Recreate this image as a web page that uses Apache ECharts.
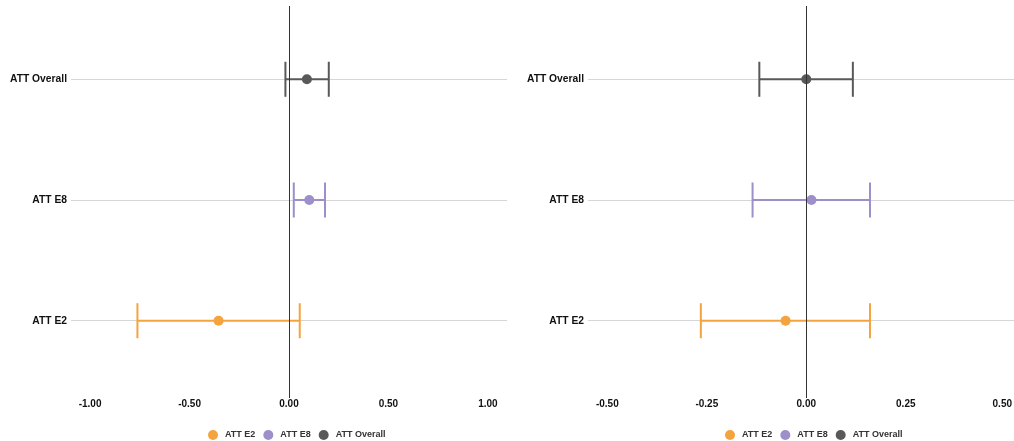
<!DOCTYPE html>
<html>
<head>
<meta charset="utf-8">
<script src="https://cdn.jsdelivr.net/npm/echarts@6/dist/echarts.min.js"></script>
<style>
html,body{margin:0;padding:0;background:#fff;}
#chart{width:1014px;height:441px;}
</style>
</head>
<body>
<div id="chart"></div>
<script>
const categories = ['ATT E2', 'ATT E8', 'ATT Overall'];
const colors = ['#F5A33E', '#9C8FCA', '#595959'];

const leftEst  = [-0.354, 0.102, 0.090];
const leftLow  = [-0.762, 0.024, -0.018];
const leftHigh = [0.054, 0.181, 0.200];

const rightEst  = [-0.052, 0.013, 0.000];
const rightLow  = [-0.265, -0.135, -0.118];
const rightHigh = [0.160, 0.160, 0.117];

const leftTicks  = [-1, -0.5, 0, 0.5, 1];
const rightTicks = [-0.5, -0.25, 0, 0.25, 0.5];

const FONT = '"Liberation Sans", Arial, sans-serif';

function xAxis(gi, min, max, ticks) {
  const lblStyle = {fontSize: 10, fontWeight: 'bold', color: '#111', fontFamily: FONT};
  return {
    type: 'value', gridIndex: gi, min: min, max: max,
    axisLine: {show: false}, splitLine: {show: false},
    axisTick: {show: false, customValues: ticks},
    axisLabel: Object.assign({customValues: ticks, margin: 1,
      formatter: v => (v > max - 0.05 ? '{e|' + v.toFixed(2) + '}' : v.toFixed(2)),
      rich: {e: Object.assign({padding: [0, 6, 0, 0]}, lblStyle)}
    }, lblStyle)
  };
}
function yAxis(gi) {
  return {
    type: 'value', gridIndex: gi, min: 0.36, max: 3.607,
    axisLine: {show: false},
    axisTick: {show: false, customValues: [1, 2, 3]},
    splitLine: {show: true, lineStyle: {color: '#D6D6D6', width: 1}},
    axisLabel: {customValues: [1, 2, 3], margin: 4, fontSize: 10.3, fontWeight: 'bold',
      color: '#111', fontFamily: FONT, formatter: v => categories[Math.round(v) - 1] || ''}
  };
}

function errSeries(gi, i, low, high) {
  return {
    type: 'custom', name: categories[i], xAxisIndex: gi, yAxisIndex: gi, z: 2,
    itemStyle: {color: colors[i]},
    data: [[low[i], high[i], i + 1]],
    renderItem: function (params, api) {
      const a = api.coord([api.value(0), api.value(2)]);
      const b = api.coord([api.value(1), api.value(2)]);
      const h = 17.5;
      const st = {stroke: colors[i], lineWidth: 2};
      return {type: 'group', children: [
        {type: 'line', shape: {x1: a[0], y1: a[1], x2: b[0], y2: b[1]}, style: st},
        {type: 'line', shape: {x1: a[0], y1: a[1] - h, x2: a[0], y2: a[1] + h}, style: st},
        {type: 'line', shape: {x1: b[0], y1: b[1] - h, x2: b[0], y2: b[1] + h}, style: st}
      ]};
    }
  };
}
function pointSeries(gi, i, est) {
  return {
    type: 'scatter', name: categories[i], xAxisIndex: gi, yAxisIndex: gi, z: 4,
    symbol: 'circle', symbolSize: 10, itemStyle: {color: colors[i], opacity: 1},
    data: [[est[i], i + 1]]
  };
}
function zeroSeries(gi) {
  return {
    type: 'line', xAxisIndex: gi, yAxisIndex: gi, data: [], z: 3,
    markLine: {silent: true, symbol: 'none', label: {show: false},
      lineStyle: {color: '#333', width: 1, type: 'solid'},
      data: [{xAxis: 0}]}
  };
}

const series = [];
[[leftEst, leftLow, leftHigh], [rightEst, rightLow, rightHigh]].forEach((d, gi) => {
  for (let i = 0; i < 3; i++) series.push(pointSeries(gi, i, d[0]));
  for (let i = 0; i < 3; i++) series.push(errSeries(gi, i, d[1], d[2]));
  series.push(zeroSeries(gi));
});

function legend(left) {
  return {
    left: left, top: 425, itemWidth: 14, itemHeight: 10, itemGap: 8,
    icon: 'circle', data: categories,
    textStyle: {fontSize: 9, fontWeight: 'bold', color: '#333', fontFamily: FONT}
  };
}

const chart = echarts.init(document.getElementById('chart'), null, {renderer: 'canvas'});
chart.setOption({
  animation: false,
  backgroundColor: '#fff',
  grid: [
    {left: 71, width: 436, top: 6, bottom: 43, containLabel: false, outerBoundsMode: 'none'},
    {left: 588, right: 0, top: 6, bottom: 43, containLabel: false, outerBoundsMode: 'none'}
  ],
  xAxis: [xAxis(0, -1.096, 1.096, leftTicks), xAxis(1, -0.5485, 0.5219, rightTicks)],
  yAxis: [yAxis(0), yAxis(1)],
  legend: [legend(203), legend(720)],
  series: series
});
</script>
</body>
</html>
